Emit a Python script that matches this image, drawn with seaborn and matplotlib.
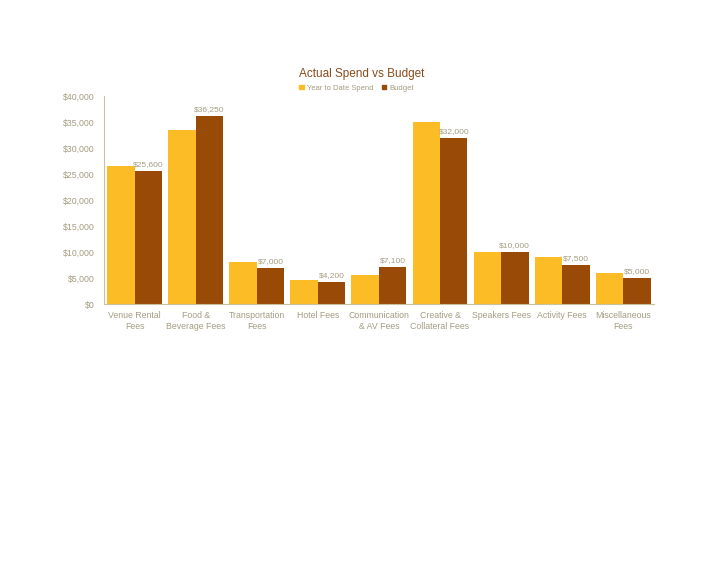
import numpy as np
import pandas as pd
import matplotlib
matplotlib.use("Agg")
import matplotlib.pyplot as plt
import seaborn as sns
from matplotlib.ticker import FuncFormatter, FixedLocator
from matplotlib.patches import Patch

# data
categories = ["Venue Rental\nFees", "Food &\nBeverage Fees", "Transportation\nFees", "Hotel Fees",
              "Communication\n& AV Fees", "Creative &\nCollateral Fees", "Speakers Fees",
              "Activity Fees", "Miscellaneous\nFees"]
ytd_spend = [26500, 33500, 8000, 4700, 5500, 35000, 10000, 9000, 6000]
budget = [25600, 36250, 7000, 4200, 7100, 32000, 10000, 7500, 5000]
series = ["Year to Date Spend", "Budget"]

df = pd.DataFrame({
    "category": categories * 2,
    "series": [series[0]] * len(categories) + [series[1]] * len(categories),
    "value": ytd_spend + budget,
})

sns.set_style("white")
plt.rcParams['font.family'] = ['Liberation Sans', 'DejaVu Sans']

txt_col = "#a39d82"
axis_col = "#c9c19a"
palette = {"Year to Date Spend": "#fbbc26", "Budget": "#9a4a07"}

fig = plt.figure(figsize=(7.28, 5.63), dpi=100)
ax = fig.add_axes([0.143, 0.46, 0.755, 0.369])

sns.barplot(data=df, x="category", y="value", hue="series", palette=palette,
            width=0.9, saturation=1, linewidth=0, ax=ax, legend=False)

# value labels on budget bars
ax.bar_label(ax.containers[1], labels=[f"${v:,.0f}" for v in budget],
             fontsize=6, color=txt_col, padding=2)

ax.set_ylim(0, 40000)
ax.set_xlim(-0.5, len(categories) - 0.5)
ax.yaxis.set_major_locator(FixedLocator(np.arange(0, 40001, 5000)))
ax.yaxis.set_major_formatter(FuncFormatter(lambda v, p: f"${v:,.0f}"))
ax.set_xlabel("")
ax.set_ylabel("")

for s in ["top", "right"]:
    ax.spines[s].set_visible(False)
for s in ["left", "bottom"]:
    ax.spines[s].set_color(axis_col)
    ax.spines[s].set_linewidth(0.8)

ax.tick_params(axis="y", labelsize=6.3, colors=txt_col, length=3, width=0.8, color=axis_col,
               direction="out", pad=4)
ax.tick_params(axis="x", which="major", labelsize=6.3, colors=txt_col, length=0, pad=5)
ax.set_xticks(np.arange(-0.5, len(categories), 1), minor=True)
ax.tick_params(axis="x", which="minor", length=3, width=0.8, color=axis_col, direction="out")
for lbl in ax.get_xticklabels():
    lbl.set_linespacing(1.35)

fig.text(0.497, 0.869, "Actual Spend vs Budget", ha="center", va="center", fontsize=8.5, color="#8a4a1a")

# legend
handles = [Patch(color=palette[s], label=s) for s in series]
fig.legend(handles=handles, loc="center", bbox_to_anchor=(0.49, 0.843), ncol=2, frameon=False,
           fontsize=5.5, handlelength=0.55, handleheight=0.55, handletextpad=0.4, columnspacing=1.2,
           labelcolor=txt_col)

fig.savefig("out.png", dpi=100)
